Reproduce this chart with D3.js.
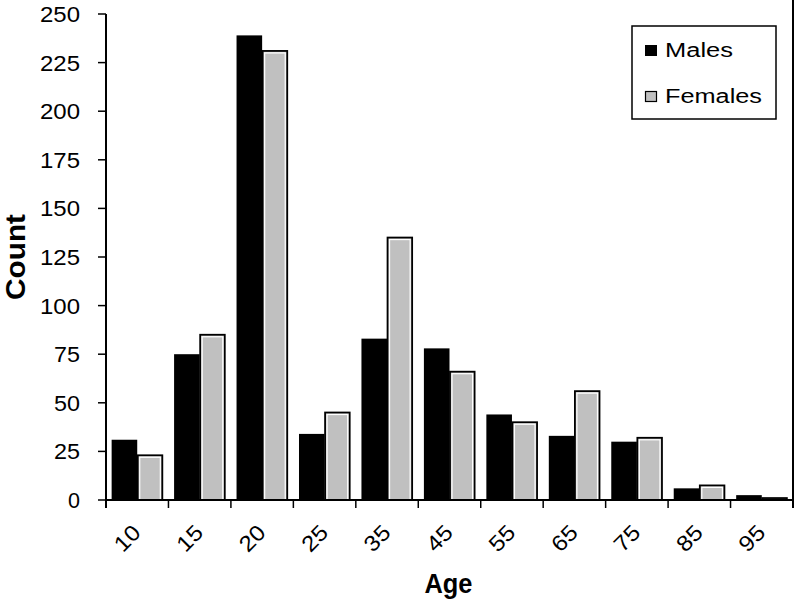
<!DOCTYPE html>
<html><head><meta charset="utf-8">
<script src="https://cdn.jsdelivr.net/npm/d3@7"></script>
<style>body{margin:0;background:#fff}svg{display:block}text{font-family:Arial,"Liberation Sans",sans-serif}</style>
</head><body>
<svg id="c" width="800" height="604"></svg>
<script>
const ages = ["10","15","20","25","35","45","55","65","75","85","95"];
const males = [31, 75, 239, 34, 83, 78, 44, 33, 30, 6, 2.5];
const females = [23, 85, 231, 45, 135, 66, 40, 56, 32, 7.5, 1];
const yTicks = [0,25,50,75,100,125,150,175,200,225,250];
const seriesNames = ["Males","Females"];

const svg = d3.select("#c");
const L = 106, R = 793, T = 14, B = 500;
const x = d3.scaleBand().domain(ages).range([L, R]).padding(0);
const x1 = d3.scaleBand().domain(seriesNames).range([0, x.bandwidth()]).paddingInner(0).paddingOuter(0.22);
const y = d3.scaleLinear().domain([0, 250]).range([B, T]);

const data = ages.map((a, i) => ({age: a, Males: males[i], Females: females[i]}));

// bars
const g = svg.append("g");
data.forEach(d => {
  const xm = x(d.age) + x1("Males");
  g.append("rect").attr("x", xm).attr("y", y(d.Males)).attr("width", x1.bandwidth()).attr("height", B - y(d.Males)).attr("fill", "#000");
  const xf = x(d.age) + x1("Females");
  const h = B - y(d.Females);
  g.append("rect").attr("x", xf + 0.5).attr("y", y(d.Females)).attr("width", x1.bandwidth() - 1).attr("height", h)
    .attr("fill", "#c0c0c0").attr("stroke", "#000").attr("stroke-width", 1.8);
  if (h > 4) {
    g.append("rect").attr("x", xf + 2.5).attr("y", y(d.Females) + 2).attr("width", x1.bandwidth() - 5).attr("height", h - 2)
      .attr("fill", "none").attr("stroke", "#fff").attr("stroke-width", 1.2);
  }
});

// y axis
svg.append("line").attr("x1", L).attr("x2", L).attr("y1", T).attr("y2", B + 8).attr("stroke", "#000").attr("stroke-width", 2);
yTicks.forEach(t => {
  svg.append("line").attr("x1", L - 8).attr("x2", L).attr("y1", y(t)).attr("y2", y(t)).attr("stroke", "#000").attr("stroke-width", 1.5);
  const s = String(t);
  svg.append("text").attr("x", 80).attr("y", y(t)).attr("dy", "0.36em").attr("text-anchor", "end")
    .attr("font-size", 22).attr("textLength", 14 * s.length - 2).attr("lengthAdjust", "spacingAndGlyphs").text(s);
});
// right border
svg.append("line").attr("x1", R).attr("x2", R).attr("y1", 0).attr("y2", B + 8).attr("stroke", "#000").attr("stroke-width", 2);

// x axis
svg.append("line").attr("x1", L).attr("x2", R).attr("y1", B).attr("y2", B).attr("stroke", "#000").attr("stroke-width", 2);
const bounds = ages.map(a => x(a)).concat([R]);
bounds.forEach(bx => {
  svg.append("line").attr("x1", bx).attr("x2", bx).attr("y1", B).attr("y2", B + 8).attr("stroke", "#000").attr("stroke-width", 1.5);
});
ages.forEach(a => {
  const cx = x(a) + 21, cy = 538;
  svg.append("text").attr("transform", `translate(${cx},${cy}) rotate(-45)`).attr("text-anchor", "middle")
    .attr("dy", "0.36em").attr("font-size", 22).attr("textLength", 27).attr("lengthAdjust", "spacingAndGlyphs").text(a);
});

// axis titles
svg.append("text").attr("x", (L + R) / 2 - 1).attr("y", 593).attr("text-anchor", "middle").attr("font-size", 27).attr("font-weight", "bold")
  .attr("textLength", 48).attr("lengthAdjust", "spacingAndGlyphs").text("Age");
svg.append("text").attr("transform", "translate(25,257) rotate(-90)").attr("text-anchor", "middle").attr("font-size", 27).attr("font-weight", "bold")
  .attr("textLength", 86).attr("lengthAdjust", "spacingAndGlyphs").text("Count");

// legend
const lg = svg.append("g");
lg.append("rect").attr("x", 632).attr("y", 26).attr("width", 144).attr("height", 93).attr("fill", "#fff").attr("stroke", "#000").attr("stroke-width", 1.5);
lg.append("rect").attr("x", 645).attr("y", 45).attr("width", 12).attr("height", 11).attr("fill", "#000");
lg.append("rect").attr("x", 645.5).attr("y", 91.5).attr("width", 11).attr("height", 10).attr("fill", "#c0c0c0").attr("stroke", "#000").attr("stroke-width", 1.2);
lg.append("text").attr("x", 665).attr("y", 57).attr("font-size", 20).attr("textLength", 68).attr("lengthAdjust", "spacingAndGlyphs").text(seriesNames[0]);
lg.append("text").attr("x", 665).attr("y", 103).attr("font-size", 20).attr("textLength", 97).attr("lengthAdjust", "spacingAndGlyphs").text(seriesNames[1]);
</script>
</body></html>
